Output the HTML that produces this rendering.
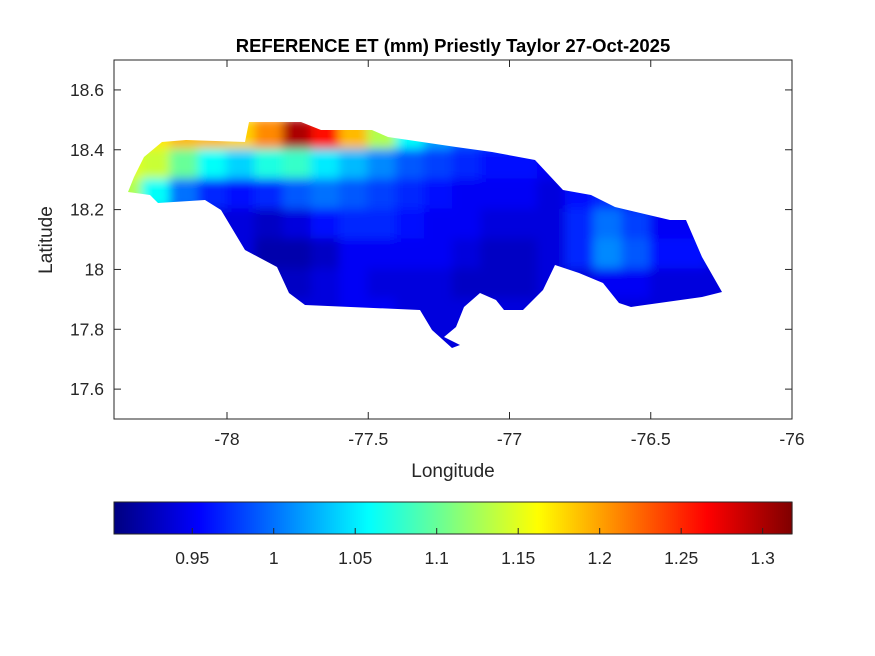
<!DOCTYPE html>
<html><head><meta charset="utf-8"><style>
body{margin:0;background:#fff;}
svg{display:block;font-family:"Liberation Sans",sans-serif;}
</style></head><body>
<svg id="chart" width="875" height="656" viewBox="0 0 875 656">
<defs>
<clipPath id="island"><polygon id="islandPoly" points=""/></clipPath>
<filter id="blur" x="-10%" y="-10%" width="120%" height="120%"><feGaussianBlur stdDeviation="5"/></filter>
</defs>
<rect width="875" height="656" fill="#fff"/>
<text x="453" y="52" text-anchor="middle" font-size="18.5" font-weight="bold" fill="#000">REFERENCE ET (mm) Priestly Taylor 27-Oct-2025</text>
<rect x="114" y="60" width="678" height="359" fill="#fff" stroke="#262626" stroke-width="1"/>
<g id="mapClip" clip-path="url(#island)"><g id="grid" filter="url(#blur)"></g></g>
<g id="axes"></g>
<text x="453" y="477" text-anchor="middle" font-size="19" fill="#262626">Longitude</text>
<text x="52" y="240" text-anchor="middle" font-size="19" fill="#262626" transform="rotate(-90 52 240)">Latitude</text>
<g id="cbar"></g>
</svg>
<script>
const xTicks=[-78,-77.5,-77,-76.5,-76];
const yTicks=[17.6,17.8,18,18.2,18.4,18.6];
const cbarTicks=[0.95,1,1.05,1.1,1.15,1.2,1.25,1.3];
const gridLon0=-78.4, gridLat0=18.5, gridStep=0.1;
const row0=[1.14,1.17,1.19,1.19,1.18,1.21,1.30,1.26,1.19,1.13,1.06,1.02,0.99,0.98,0.97,0.96,0.96,0.95,0.95,0.95,0.95,0.95];
const row1=[1.15,1.14,1.10,1.06,1.04,1.07,1.08,1.05,1.03,1.01,0.99,0.98,0.97,0.96,0.96,0.95,0.95,0.95,0.95,0.95,0.95,0.95];
const row2=[1.13,1.06,1.00,0.97,0.96,0.97,0.99,1.00,0.99,0.98,0.97,0.96,0.95,0.95,0.95,0.94,0.96,0.97,0.95,0.94,0.94,0.94];
const row3=[1.00,0.96,0.95,0.94,0.94,0.93,0.94,0.96,0.97,0.97,0.96,0.95,0.95,0.94,0.94,0.94,0.97,1.00,0.98,0.95,0.95,0.94];
const row4=[0.94,0.94,0.94,0.94,0.94,0.92,0.92,0.93,0.95,0.95,0.95,0.95,0.94,0.93,0.93,0.94,0.97,1.01,0.99,0.96,0.96,0.94];
const row5=[0.94,0.94,0.94,0.94,0.94,0.93,0.93,0.94,0.95,0.94,0.94,0.94,0.93,0.93,0.93,0.94,0.94,0.95,0.95,0.94,0.94,0.94];
const row6=[0.94,0.94,0.94,0.94,0.94,0.94,0.94,0.94,0.95,0.95,0.94,0.94,0.94,0.94,0.94,0.94,0.94,0.94,0.94,0.94,0.94,0.94];
const row7=[0.94,0.94,0.94,0.94,0.94,0.94,0.94,0.94,0.94,0.94,0.94,0.94,0.94,0.94,0.94,0.94,0.94,0.94,0.94,0.94,0.94,0.94];
const gridRows=[row0,row1,row2,row3,row4,row5,row6,row7];
const cmin=0.902, cmax=1.318;
const NS='http://www.w3.org/2000/svg';
const X=lon=>114+(lon+78.4)*282.5;
const Y=lat=>60+(18.7-lat)*299.2;
const C=v=>114+(v-cmin)/(cmax-cmin)*678;
function jet(v){let t=Math.max(0,Math.min(1,(v-cmin)/(cmax-cmin)));
 const f=x=>Math.round(255*Math.max(0,Math.min(1,1.5-Math.abs(x))));
 return `rgb(${f(4*t-3)},${f(4*t-2)},${f(4*t-1)})`;}
function mk(tag,attrs,parent){const e=document.createElementNS(NS,tag);for(const k in attrs)e.setAttribute(k,attrs[k]);parent.appendChild(e);return e;}
document.getElementById('islandPoly').setAttribute('points',"128,192 134,177 144,157 162,142 186,140 245,142 249,122 301,122 321,130 372,130 388,137 456,147 492,152 535,160 563,190 591,195 615,207 670,220 686,220 702,257 722,292 702,297 631,307 619,303 603,283 579,273 555,265 543,290 523,310 504,310 496,300 480,293 464,307 456,327 444,337 460,345 452,348 432,330 420,310 305,305 289,293 277,267 245,250 221,210 205,200 158,203 150,195");
const g=document.getElementById('grid');
gridRows.forEach((row,i)=>row.forEach((v,j)=>{
 const lon=gridLon0+j*gridStep, lat=gridLat0-i*gridStep;
 const x0=X(lon),x1=X(lon+gridStep),y0=Y(lat),y1=Y(lat-gridStep);
 const r=mk('rect',{x:x0-1,y:y0-1,width:x1-x0+2,height:y1-y0+2,fill:jet(v)},g);
 
 
}));
const ax=document.getElementById('axes');
xTicks.forEach(t=>{const x=X(t);
 mk('line',{x1:x,x2:x,y1:419,y2:412,stroke:'#262626'},ax);
 mk('line',{x1:x,x2:x,y1:60,y2:67,stroke:'#262626'},ax);
 const tx=mk('text',{x:x,y:445,'text-anchor':'middle','font-size':17.5,fill:'#262626'},ax);tx.textContent=t;
 
 });
yTicks.forEach(t=>{const y=Y(t);
 mk('line',{x1:114,x2:121,y1:y,y2:y,stroke:'#262626'},ax);
 mk('line',{x1:792,x2:785,y1:y,y2:y,stroke:'#262626'},ax);
 const tx=mk('text',{x:104,y:y+6,'text-anchor':'end','font-size':17.5,fill:'#262626'},ax);tx.textContent=t;
 
 });
const cb=document.getElementById('cbar');
for(let i=0;i<339;i++){mk('rect',{x:114+i*2,y:502,width:2.6,height:32,fill:jet(cmin+(i+0.5)/339*(cmax-cmin))},cb);}
const frame=mk('rect',{x:114,y:502,width:678,height:32,fill:'none',stroke:'#262626'},cb);


cbarTicks.forEach(t=>{const x=C(t);
 mk('line',{x1:x,x2:x,y1:534,y2:528,stroke:'#262626'},cb);
 const tx=mk('text',{x:x,y:564,'text-anchor':'middle','font-size':17.5,fill:'#262626'},cb);tx.textContent=t;
 
 });
</script>
</body></html>
